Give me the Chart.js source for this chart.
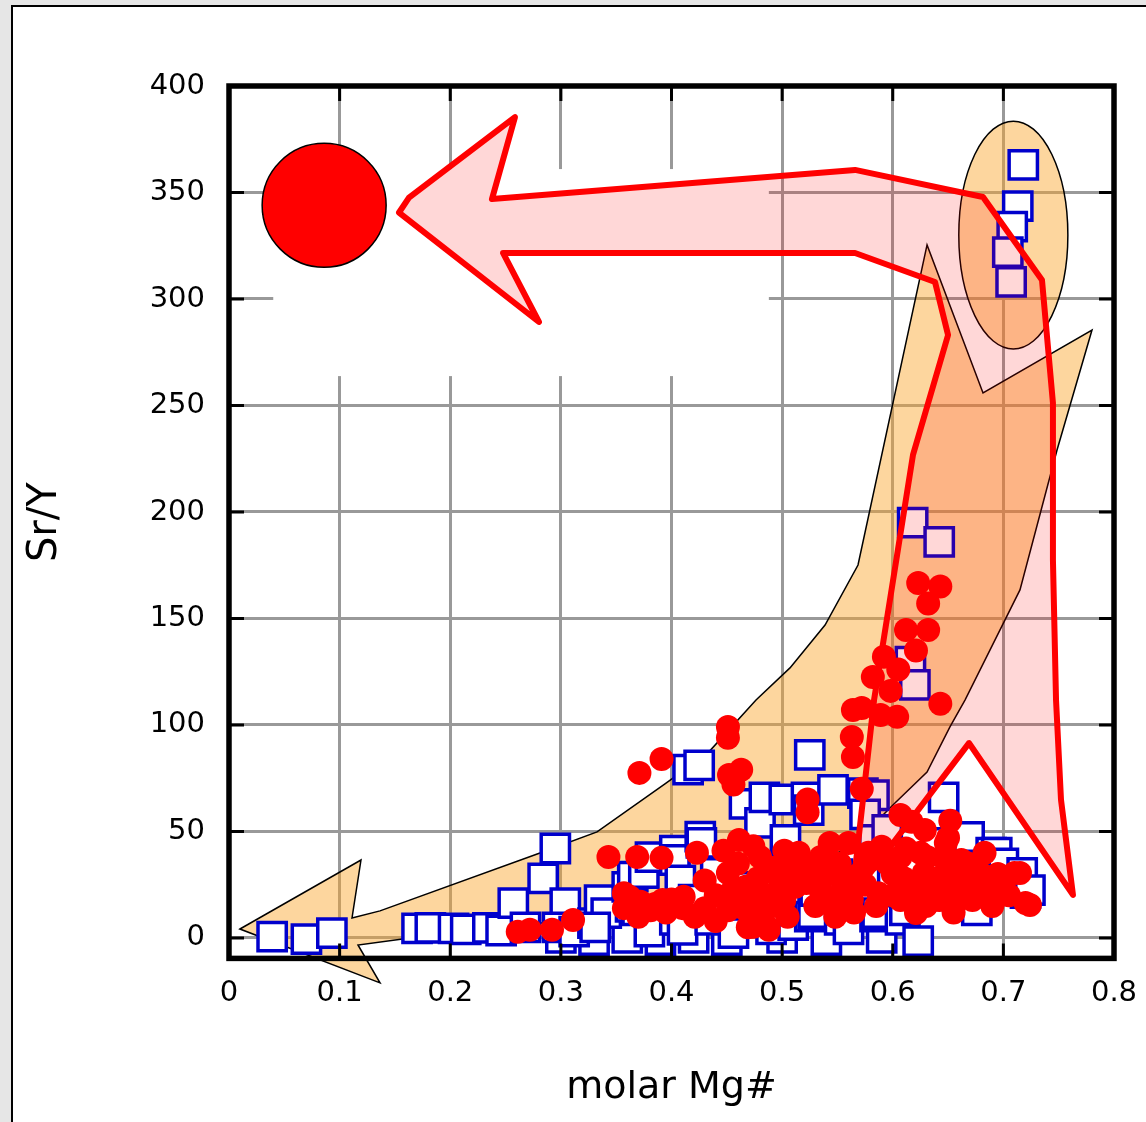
<!DOCTYPE html>
<html>
<head>
<meta charset="utf-8">
<script src="https://cdn.jsdelivr.net/npm/chart.js@4.4.1/dist/chart.umd.min.js"></script>
<style>
  html, body { margin: 0; padding: 0; background: #e6e6e6; overflow: hidden; }
  .sheet { position: absolute; left: 11px; top: 5px; width: 1300px; height: 1300px;
           border: 2px solid #000; background: #fff; }
  #chart { position: absolute; left: 0; top: 0; }
</style>
</head>
<body>
<div class="sheet"></div>
<canvas id="chart" width="1146" height="1122"></canvas>
<script>
// ticks
const xTicks = [0, 0.1, 0.2, 0.3, 0.4, 0.5, 0.6, 0.7, 0.8];
const xTickLabels = ['0', '0.1', '0.2', '0.3', '0.4', '0.5', '0.6', '0.7', '0.8'];
const yTicks = [0, 50, 100, 150, 200, 250, 300, 350, 400];
const yTickLabels = ['0', '50', '100', '150', '200', '250', '300', '350', '400'];

// open squares (molar Mg#, Sr/Y)
const squareMg = [
  0.039, 0.070, 0.093, 0.170, 0.182, 0.203, 0.214, 0.234, 0.246,
  0.300, 0.330, 0.360, 0.390, 0.420, 0.450, 0.500, 0.540, 0.590,
  0.257, 0.268, 0.284, 0.295, 0.304, 0.297, 0.312, 0.329, 0.335, 0.341, 0.331, 0.360, 0.363,
  0.365, 0.369, 0.375, 0.381, 0.387, 0.380, 0.403, 0.403, 0.403, 0.408, 0.410, 0.420,
  0.415, 0.425, 0.426, 0.427, 0.435, 0.440, 0.447, 0.456, 0.461, 0.470,
  0.466, 0.480, 0.484, 0.485, 0.490, 0.502, 0.503, 0.504, 0.510,
  0.522, 0.524, 0.525, 0.525, 0.528, 0.530, 0.546, 0.550, 0.552, 0.560,
  0.573, 0.583, 0.575, 0.583, 0.584, 0.586, 0.595, 0.600, 0.607, 0.611, 0.620,
  0.616, 0.618, 0.620, 0.623, 0.640, 0.642, 0.646, 0.650, 0.669, 0.672, 0.676, 0.680,
  0.689, 0.694, 0.700, 0.717, 0.720, 0.724,
  0.718, 0.713, 0.708, 0.704, 0.707
];
const squareSrY = [
  0.6, -0.5, 2.3, 4.5, 4.7, 4.5, 4.0, 4.7, 3.5,
  0, -1, 0, -1, 0, -1, 0, -1, 0,
  16.4, 5.0, 28.0, 42.0, 16.4, 5.0, 3.0, 7.0, 17.8, 11.7, 5.0, 24.0, 14.6,
  28.8, 13.0, 30.5, 38.0, 8.5, 3.0, 41.0, 36.6, 8.5, 27.0, 3.8, 18,
  79.0, 81.0, 47.6, 44.6, 8.5, 30.5, 11.7, 2.3, 24.0, 20,
  63.0, 54.0, 66.0, 14.7, 4.0, 65.0, 46.0, 32.0, 6.0,
  66.0, 60.0, 86.0, 10.0, 11.7, 22, 69.5, 30, 8.5, 4.0,
  68.0, 67, 58, 46.0, 10.0, 11.7, 50.7, 25, 8.5, 13.0, 35,
  129.7, 195.0, 118.8, -1.5, 44.6, 186.0, 66.0, 20, 47.4, 17.8, 13.0, 28,
  40.0, 40.0, 35.0, 30.5, 21.0, 22.5,
  363, 343.6, 334, 322, 308
];

// filled circles (molar Mg#, Sr/Y)
const circleMg = [
  0.261, 0.272, 0.292, 0.311,
  0.343, 0.369, 0.391, 0.423,
  0.362, 0.363, 0.370, 0.381, 0.392, 0.400, 0.411, 0.421, 0.430, 0.430, 0.440,
  0.357, 0.357, 0.372, 0.385, 0.395, 0.410, 0.440,
  0.447, 0.461, 0.474, 0.451, 0.460, 0.467, 0.474, 0.451, 0.469, 0.474, 0.487, 0.488, 0.481, 0.495, 0.480,
  0.455, 0.465, 0.478, 0.485, 0.490, 0.505, 0.512, 0.515, 0.525, 0.535, 0.535, 0.548, 0.552,
  0.502, 0.509, 0.498, 0.502, 0.500, 0.522, 0.520, 0.530, 0.543, 0.543, 0.543, 0.549, 0.555,
  0.560, 0.565, 0.575, 0.578, 0.585, 0.595, 0.600, 0.610, 0.612, 0.620, 0.625, 0.630,
  0.560, 0.560, 0.563, 0.570, 0.580, 0.590, 0.587, 0.600, 0.607, 0.607, 0.615, 0.617, 0.621,
  0.640, 0.645, 0.650, 0.655, 0.660, 0.670, 0.668, 0.680, 0.680, 0.695, 0.705,
  0.628, 0.631, 0.635, 0.642, 0.648, 0.648, 0.655, 0.660, 0.662, 0.665, 0.672, 0.675, 0.686,
  0.690, 0.693, 0.700, 0.700, 0.710, 0.715, 0.720, 0.724,
  0.371, 0.391, 0.451, 0.451, 0.452, 0.456, 0.463,
  0.523, 0.523, 0.607, 0.617, 0.629, 0.652, 0.650, 0.683,
  0.572, 0.564, 0.563, 0.564, 0.572, 0.589, 0.604, 0.643, 0.582, 0.598, 0.592, 0.605,
  0.621, 0.612, 0.632, 0.632, 0.623, 0.643
];
const circleSrY = [
  2.9, 3.8, 3.8, 8.4,
  38, 38, 37.6, 40,
  19.4, 15, 10, 13, 17.8, 18, 19.4, 10, 14, 27, 20,
  21, 14, 17, 16, 12, 14, 8,
  41, 46, 43, 30.5, 35, 24, 17.8, 13, 5, 5.3, 5, 3.8, 11.7, 15, 38,
  22, 14, 28, 20, 33, 10, 24, 40, 30, 22, 38, 10, 35,
  41, 33.5, 27, 17.8, 20, 25.8, 35, 15, 44.6, 30.5, 17.8, 17.8, 25,
  22, 12, 25, 40, 15, 35, 20, 28, 42, 22, 40, 15,
  44.6, 28.8, 17.8, 30, 36.6, 42.8, 21, 30, 38, 17.8, 25, 17.8, 11.7,
  28, 38, 22, 32, 18, 25, 35, 20, 30, 30, 20,
  30.5, 38, 22, 17.8, 44.6, 30.5, 12, 27, 36.6, 22.5, 17.8, 30, 25.8,
  15, 21, 27, 24, 30.5, 30.5, 16.4, 15.5,
  77.5, 84, 99, 94, 76.5, 72, 79,
  65, 59, 57.7, 54.5, 50.7, 55, 47, 40,
  70, 85, 94.4, 107, 108, 104.7, 103.8, 110, 122.5, 116, 132, 126,
  135, 144.6, 144.6, 157, 166.7, 165
];

// large end-member symbol
const bigMg = [0.086];
const bigSrY = [344];

// shapes in data units
const whiteBox = [0.04, 0.488, 263.8, 361];
const orangeArrow = [
  [0.0099, 4.2], [0.1193, 36.6], [0.1112, 9.4], [0.1365, 12.7], [0.2811, 39.9],
  [0.3327, 49.8], [0.3941, 72.3], [0.433, 86.9], [0.4764, 111.7], [0.5071, 126.8],
  [0.5388, 146.9], [0.5686, 175.1], [0.631, 325.4], [0.6816, 255.9], [0.7801, 285.4],
  [0.7485, 229.1], [0.715, 163.4], [0.6653, 111.7], [0.6517, 99.1], [0.631, 77.9],
  [0.602, 63.4], [0.5704, 46.9], [0.5297, 32.9], [0.471, 20.2], [0.3806, 11.7],
  [0.263, 6.1], [0.1636, 0], [0.1166, -3.3], [0.1365, -21.1]
];
const ellipse = { x: 0.709, y: 330, rx: 0.0493, ry: 53.5 };
const pinkArrow = [
  [0.2377, 346.9], [0.5659, 360.6], [0.6816, 347.9], [0.7349, 308.9], [0.7448, 251.2],
  [0.7448, 177.5], [0.7476, 111.7], [0.7521, 64.8], [0.7629, 20.2], [0.6689, 91.5],
  [0.5632, 19.2], [0.5831, 111.7], [0.6183, 226.8], [0.65, 283.1], [0.6382, 308],
  [0.5659, 321.6], [0.2477, 321.6], [0.2802, 289.2], [0.1537, 340.6], [0.1627, 347.6],
  [0.2585, 385.4]
];

function zip(a, b) {
  return a.map((v, i) => ({ x: v, y: b[i] }));
}

function tracePoly(ctx, chart, pts) {
  const x = chart.scales.x, y = chart.scales.y;
  ctx.beginPath();
  pts.forEach((p, i) => {
    const px = x.getPixelForValue(p[0]), py = y.getPixelForValue(p[1]);
    if (i === 0) ctx.moveTo(px, py); else ctx.lineTo(px, py);
  });
  ctx.closePath();
}

const overlay = {
  id: 'overlay',
  beforeDatasetsDraw(chart) {
    const { ctx } = chart;
    const x = chart.scales.x, y = chart.scales.y;
    ctx.save();
    // white box that hides the grid behind the big symbol
    const bx0 = x.getPixelForValue(whiteBox[0]), bx1 = x.getPixelForValue(whiteBox[1]);
    const by0 = y.getPixelForValue(whiteBox[3]), by1 = y.getPixelForValue(whiteBox[2]);
    ctx.fillStyle = '#fff';
    ctx.fillRect(bx0, by0, bx1 - bx0, by1 - by0);

    ctx.fillStyle = 'rgba(250,165,40,0.45)';
    ctx.strokeStyle = '#000';
    ctx.lineWidth = 1.5;
    ctx.lineJoin = 'miter';
    tracePoly(ctx, chart, orangeArrow);
    ctx.fill();
    ctx.stroke();

    const ex = x.getPixelForValue(ellipse.x), ey = y.getPixelForValue(ellipse.y);
    const erx = Math.abs(x.getPixelForValue(ellipse.x + ellipse.rx) - ex);
    const ery = Math.abs(y.getPixelForValue(ellipse.y + ellipse.ry) - ey);
    ctx.beginPath();
    ctx.ellipse(ex, ey, erx, ery, 0, 0, Math.PI * 2);
    ctx.fill();
    ctx.stroke();
    ctx.restore();
  },
  afterDatasetsDraw(chart) {
    const { ctx } = chart;
    ctx.save();
    tracePoly(ctx, chart, pinkArrow);
    ctx.fillStyle = 'rgba(255,0,0,0.155)';
    ctx.fill();
    ctx.strokeStyle = '#ff0000';
    ctx.lineWidth = 6;
    ctx.lineJoin = 'round';
    ctx.stroke();
    ctx.restore();
  },
  afterDraw(chart) {
    const { ctx, chartArea: a } = chart;
    const x = chart.scales.x, y = chart.scales.y;
    ctx.save();
    ctx.strokeStyle = '#000';
    ctx.lineWidth = 3;
    ctx.beginPath();
    xTicks.slice(1, -1).forEach(v => {
      const px = x.getPixelForValue(v);
      ctx.moveTo(px, a.bottom); ctx.lineTo(px, a.bottom - 15);
      ctx.moveTo(px, a.top); ctx.lineTo(px, a.top + 15);
    });
    yTicks.slice(0, -1).forEach(v => {
      const py = y.getPixelForValue(v);
      ctx.moveTo(a.left, py); ctx.lineTo(a.left + 15, py);
      ctx.moveTo(a.right, py); ctx.lineTo(a.right - 15, py);
    });
    ctx.stroke();
    ctx.lineWidth = 5.5;
    ctx.strokeRect(a.left, a.top, a.right - a.left, a.bottom - a.top);
    ctx.restore();
  }
};

const tickFont = { family: 'DejaVu Sans', size: 29 };
const titleFont = { family: 'DejaVu Sans', size: 38 };

new Chart(document.getElementById('chart'), {
  type: 'scatter',
  data: {
    datasets: [
      {
        label: 'end member',
        data: zip(bigMg, bigSrY),
        pointStyle: 'circle',
        pointRadius: 62,
        pointHoverRadius: 62,
        pointBackgroundColor: '#ff0000',
        pointBorderColor: '#000',
        pointBorderWidth: 1.5
      },
      {
        label: 'circles',
        data: zip(circleMg, circleSrY),
        pointStyle: 'circle',
        pointRadius: 12,
        pointHoverRadius: 12,
        pointBackgroundColor: '#ff0000',
        pointBorderWidth: 0
      },
      {
        label: 'squares',
        data: zip(squareMg, squareSrY),
        pointStyle: 'rect',
        pointRadius: 20,
        pointHoverRadius: 20,
        pointBackgroundColor: '#fff',
        pointBorderColor: '#0000cc',
        pointBorderWidth: 3.5
      }
    ]
  },
  options: {
    responsive: false,
    animation: false,
    events: [],
    layout: { autoPadding: false, padding: { left: 0, top: 86, right: 32, bottom: 0 } },
    plugins: { legend: { display: false }, tooltip: { enabled: false } },
    scales: {
      x: {
        type: 'linear',
        min: 0,
        max: 0.8,
        afterBuildTicks: axis => { axis.ticks = xTicks.map(v => ({ value: v })); },
        afterFit: s => { s.height = 163.6; s.paddingLeft = 0; s.paddingRight = 0; },
        grid: { color: '#999', lineWidth: 3, drawTicks: false },
        border: { display: false },
        ticks: {
          autoSkip: false, maxRotation: 0, color: '#000', font: tickFont, padding: 18,
          callback: (v, i) => xTickLabels[i]
        },
        title: { display: true, text: 'molar Mg#', color: '#000', font: titleFont, padding: { top: 0, bottom: 11 } }
      },
      y: {
        type: 'linear',
        min: -9.6,
        max: 400,
        afterBuildTicks: axis => { axis.ticks = yTicks.map(v => ({ value: v })); },
        afterFit: s => { s.width = 229; s.paddingTop = 0; s.paddingBottom = 0; },
        grid: { color: '#999', lineWidth: 3, drawTicks: false },
        border: { display: false },
        ticks: {
          autoSkip: false, color: '#000', font: tickFont, padding: 24,
          callback: (v, i) => yTickLabels[i]
        },
        title: { display: true, text: 'Sr/Y', color: '#000', font: { family: 'DejaVu Sans', size: 40 }, padding: { top: 22, bottom: 0 } }
      }
    }
  },
  plugins: [overlay]
});
</script>
</body>
</html>
